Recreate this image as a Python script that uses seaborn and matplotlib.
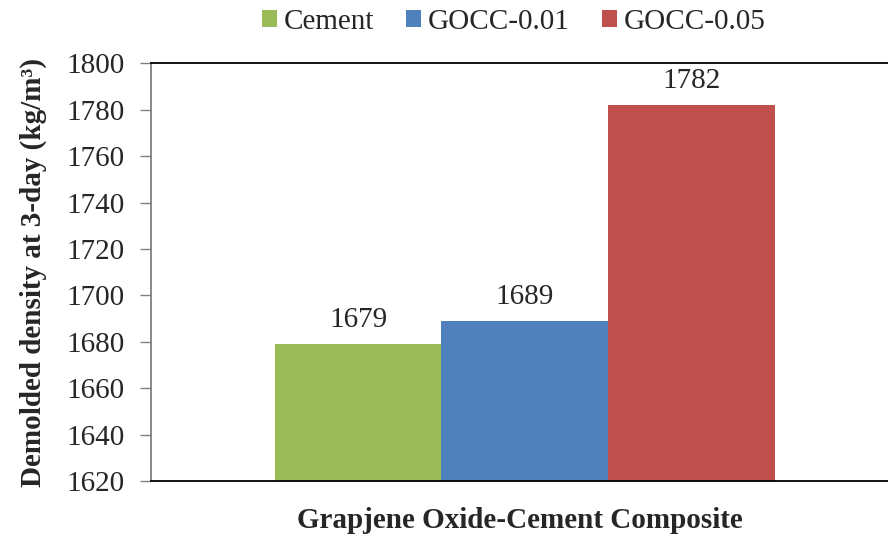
import pandas as pd
import seaborn as sns
import matplotlib.pyplot as plt

# data
groups = ["Cement", "GOCC-0.01", "GOCC-0.05"]
density = [1679, 1689, 1782]
colors = ["#9BBB59", "#4F81BD", "#C0504D"]
yticks = list(range(1620, 1801, 20))

df = pd.DataFrame({"x": ["GO"] * len(groups), "mix": groups, "density": density})

sns.set_style("white")
plt.rcParams['font.family'] = ['Liberation Serif', 'DejaVu Serif']

fig = plt.figure(figsize=(8.88, 5.41), dpi=100)
ax = fig.add_axes([0.170, 0.111, 0.830, 0.772])

sns.barplot(data=df, x="x", y="density", hue="mix", palette=colors,
            width=0.8, saturation=1, linewidth=0, ax=ax, legend=True)

for c in ax.containers:
    ax.bar_label(c, fmt="%d", fontsize=21, padding=8)

ax.set_ylim(1620, 1800)
ax.set_yticks(yticks)
ax.set_xlim(-0.598, 0.581)
ax.set_xticks([])
ax.tick_params(axis="y", labelsize=21, length=8, width=1, color="#808080", left=True, pad=11)

ax.spines["left"].set_color("#808080")
ax.spines["top"].set_color("black")
ax.spines["bottom"].set_color("black")
ax.spines["right"].set_visible(False)
for s in ["left", "top", "bottom"]:
    ax.spines[s].set_linewidth(1.3)

ax.set_ylabel("Demolded density at 3-day (kg/m³)", fontsize=21, fontweight="bold", labelpad=14)
ax.set_xlabel("Grapjene Oxide-Cement Composite", fontsize=21, fontweight="bold", labelpad=19)

ax.legend(loc="upper center", bbox_to_anchor=(0.4925, 1.158), ncol=3, frameon=False,
          fontsize=21, handlelength=0.5, handleheight=0.5, handletextpad=0.25,
          columnspacing=1.1, borderaxespad=0)

fig.savefig("out.png", dpi=100)
